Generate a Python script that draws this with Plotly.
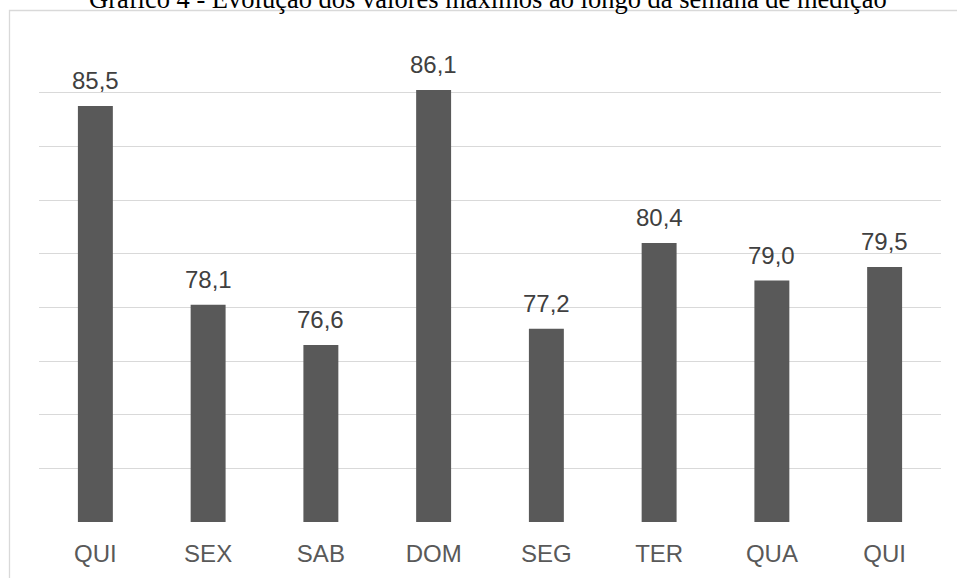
import plotly.graph_objects as go

# Daily maximum readings over the measurement week
days = ["QUI", "SEX", "SAB", "DOM", "SEG", "TER", "QUA", "QUI"]
max_values = [85.5, 78.1, 76.6, 86.1, 77.2, 80.4, 79.0, 79.5]
y_ticks = [70, 72, 74, 76, 78, 80, 82, 84, 86, 88]

title_text = "Gráfico 4 - Evolução dos valores máximos ao longo da semana de medição"

W, H = 957, 578
M_L, M_R, M_T, M_B = 39, 16, 39, 56
plot_w = W - M_L - M_R
plot_h = H - M_T - M_B

positions = list(range(len(days)))

fig = go.Figure()
fig.add_trace(go.Bar(
    x=positions,
    y=max_values,
    marker=dict(color="#595959", line=dict(width=0)),
    width=0.31,
    hoverinfo="skip",
))

# value labels above each bar
for xi, v in zip(positions, max_values):
    fig.add_annotation(
        x=xi, y=v, xref="x", yref="y",
        text=f"{v:.1f}".replace(".", ","),
        showarrow=False, yanchor="bottom", yshift=10,
        font=dict(family="Liberation Sans, Arial, sans-serif", size=24, color="#404040"),
    )

# chart title, partly above the frame
fig.add_annotation(
    x=(488 - M_L) / plot_w, xref="paper", y=(plot_h + M_T - 7) / plot_h, yref="paper",
    text=title_text, showarrow=False, yanchor="bottom", yshift=-9,
    font=dict(family="Liberation Serif, Times New Roman, serif", size=26.5, color="#000000"),
)

# light frame around the chart
fig.add_shape(
    type="rect", xref="paper", yref="paper",
    x0=(9.5 - M_L) / plot_w, x1=1.2,
    y0=-0.3, y1=(plot_h + M_T - 10.5) / plot_h,
    line=dict(color="#d9d9d9", width=1.3), fillcolor="rgba(0,0,0,0)",
    layer="below",
)

fig.update_layout(
    width=W, height=H,
    margin=dict(l=M_L, r=M_R, t=M_T, b=M_B),
    paper_bgcolor="white", plot_bgcolor="white",
    showlegend=False,
    bargap=0.69,
    xaxis=dict(
        tickmode="array", tickvals=positions, ticktext=days,
        range=[-0.5, len(days) - 0.5],
        showgrid=False, zeroline=False, showline=False, ticks="",
        tickfont=dict(family="Liberation Sans, Arial, sans-serif", size=24, color="#595959"),
        ticklabelstandoff=15,
    ),
    yaxis=dict(
        range=[70, 88], tickvals=y_ticks, showticklabels=False,
        showgrid=True, gridcolor="#d9d9d9", gridwidth=1.3,
        zeroline=False, showline=False, ticks="",
    ),
)

fig.write_html("out.html")
